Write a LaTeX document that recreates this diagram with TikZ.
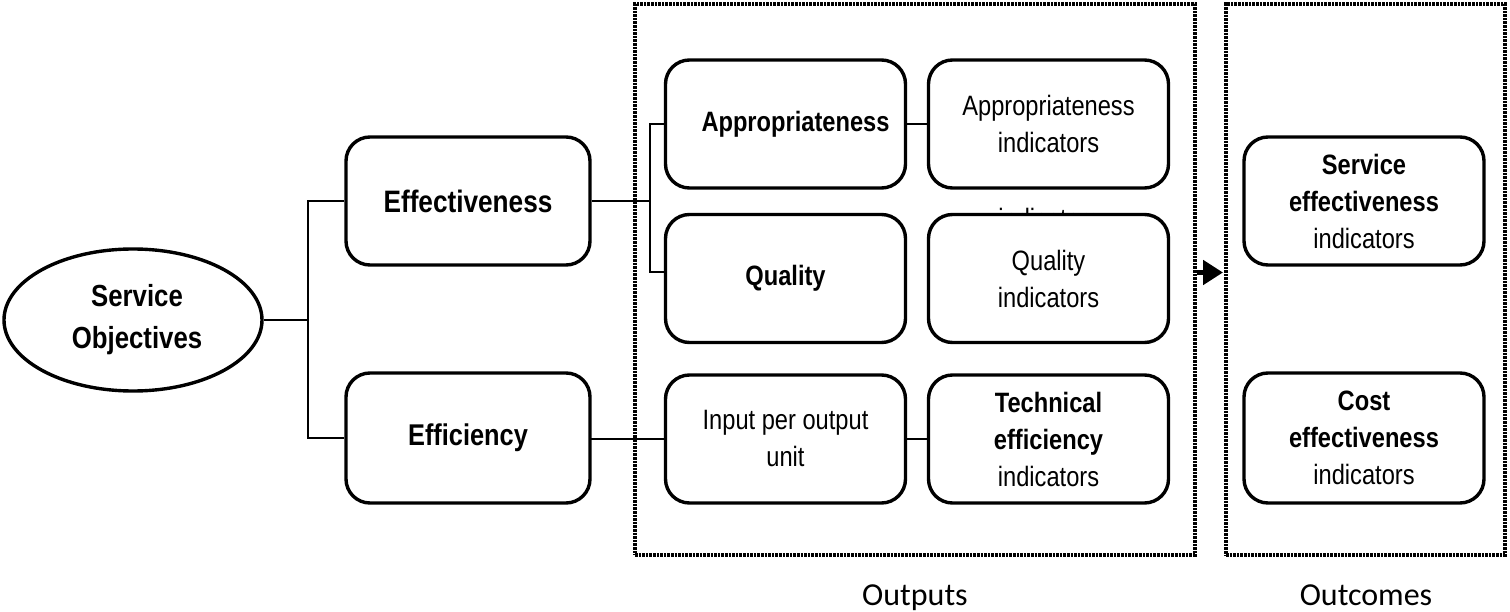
\documentclass[tikz,border=0pt]{standalone}
\usepackage{fontspec}
\setmainfont{Liberation Sans}[FakeStretch=0.845]
\newfontfamily\calib{Carlito}
\usetikzlibrary{shapes.geometric,arrows.meta}
\begin{document}
\begin{tikzpicture}[x=1pt,y=-1pt,
  txt/.style={font=\fontsize{28}{37}\selectfont},
  btxt/.style={font=\fontsize{28}{37}\selectfont\bfseries},
  box/.style={draw,line width=3.4pt,rounded corners=24pt,minimum width=240pt,minimum height=128pt,inner sep=0pt,align=center,fill=white,txt},
  conn/.style={line width=2pt},
  group/.style={draw,line width=4pt,dash pattern=on 2.6pt off 1pt,inner sep=0pt},
  lbl/.style={font=\calib\fontsize{32}{34}\selectfont,anchor=base}]
\useasboundingbox (0,0) rectangle (1510,612);
% groups
\node[group,minimum width=560pt,minimum height=551pt] (outputs) at (915,279.5) {};
\node[group,minimum width=279pt,minimum height=551pt] (outcomes) at (1365.5,279.5) {};
\node[lbl] (outlbl) at (915,605) {Outputs};
\node[lbl] (outclbl) at (1366,605) {Outcomes};
% objective
\node[draw,ellipse,line width=3.4pt,minimum width=258pt,minimum height=142pt,inner sep=0pt,align=center,font=\fontsize{30.5}{42}\selectfont\bfseries] (obj) at (133,320) {\hspace*{8pt}\raisebox{-4pt}{Service}\\\hspace*{8pt}\raisebox{-4pt}{Objectives}};
% level 1
\node[box,minimum width=244pt,font=\fontsize{31}{38}\selectfont\bfseries] (effv) at (468,201) {\raisebox{-5pt}{Effectiveness}};
\node[box,minimum width=244pt,minimum height=130pt,font=\fontsize{30}{38}\selectfont\bfseries] (effi) at (468,438) {\raisebox{-5pt}{Efficiency}};
% stray text
\node[txt,anchor=base] (ghost) at (1049,229) {indicators};
% level 2
\node[box,btxt] (appr) at (785.5,124) {\hspace*{20pt}\raisebox{-4pt}{Appropriateness}};
\node[box] (apprind) at (1048.5,124) {Appropriateness\\indicators};
\node[box,btxt] (qual) at (785.5,278.5) {\raisebox{-6pt}{Quality}};
\node[box] (qualind) at (1048.5,278.5) {Quality\\indicators};
\node[box] (inp) at (785.5,439) {Input per output\\unit};
\node[box] (tech) at (1048.5,439) {\textbf{Technical}\\\textbf{efficiency}\\indicators};
% outcomes
\node[box] (seff) at (1364,201) {\textbf{Service}\\\textbf{effectiveness}\\indicators};
\node[box,minimum height=130pt] (ceff) at (1364,438) {\textbf{Cost}\\\textbf{effectiveness}\\indicators};
% connectors
\coordinate (j1) at (308,320);
\coordinate (j2) at (650,201);
\draw[conn] (obj.east) -- (j1);
\draw[conn] (effv.west) -| (j1) |- (effi.west);
\draw[conn] (effv.east) -- (j2);
\draw[conn] (appr.west) -| (j2) |- ([yshift=6pt]qual.west);
\draw[conn] (appr.east) -- (apprind.west);
\draw[conn] (effi.west -| effi.east) -- (effi.east |- inp.west) -- (inp.west);
\draw[conn] (inp.east) -- (tech.west);
\draw[line width=5pt,-{Triangle[length=20pt,width=24pt]}] ([yshift=6pt]outputs.east |- qual.east) -- ([yshift=6pt,xshift=-1pt]outcomes.west |- qual.east);
\end{tikzpicture}
\end{document}
